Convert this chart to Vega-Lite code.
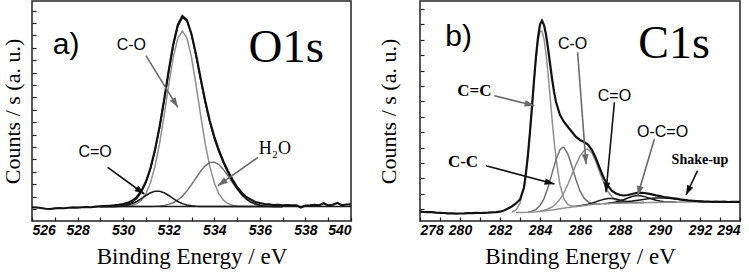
{
  "$schema": "https://vega.github.io/schema/vega-lite/v6.json",
  "padding": {"left": 0, "top": 0, "right": 0, "bottom": 0},
  "background": "white",
  "spacing": 20,
  "config": {
    "view": {"stroke": "#222", "strokeWidth": 1.5},
    "axis": {"grid": false, "domain": false, "tickColor": "#222", "tickSize": -4, "tickWidth": 1.2,
      "labelFont": "Liberation Sans", "labelFontWeight": "bold", "labelFontStyle": "italic", "labelFontSize": 14, "labelColor": "#000",
      "titleFont": "Liberation Serif", "titleFontWeight": "normal", "titleFontSize": 22, "titleColor": "#000", "labelOverlap": false},
    "axisX": {"titleFontSize": 23}
  },
  "datasets": {
    "o1s": [
      {"E":529.0,"CO":14.5,"H2O":14.5,"CdO":14.5,"fit":14.5},
      {"E":529.2,"CO":14.5,"H2O":14.5,"CdO":14.5,"fit":14.5},
      {"E":529.4,"CO":14.5,"H2O":14.5,"CdO":14.5,"fit":14.5},
      {"E":529.6,"CO":14.5,"H2O":14.5,"CdO":14.6,"fit":14.6},
      {"E":529.8,"CO":14.6,"H2O":14.5,"CdO":14.8,"fit":14.8},
      {"E":530.0,"CO":14.7,"H2O":14.5,"CdO":15.2,"fit":15.4},
      {"E":530.2,"CO":15.0,"H2O":14.5,"CdO":16.0,"fit":16.5},
      {"E":530.4,"CO":15.8,"H2O":14.5,"CdO":17.4,"fit":18.6},
      {"E":530.6,"CO":17.5,"H2O":14.5,"CdO":19.5,"fit":22.5},
      {"E":530.8,"CO":20.9,"H2O":14.5,"CdO":22.3,"fit":28.8},
      {"E":531.0,"CO":27.4,"H2O":14.5,"CdO":25.5,"fit":38.4},
      {"E":531.2,"CO":38.2,"H2O":14.6,"CdO":28.2,"fit":52.0},
      {"E":531.4,"CO":54.9,"H2O":14.7,"CdO":29.8,"fit":70.4},
      {"E":531.6,"CO":77.7,"H2O":15.0,"CdO":29.8,"fit":93.5},
      {"E":531.8,"CO":105.8,"H2O":15.6,"CdO":28.2,"fit":120.6},
      {"E":532.0,"CO":136.1,"H2O":16.6,"CdO":25.5,"fit":149.1},
      {"E":532.2,"CO":163.6,"H2O":18.3,"CdO":22.3,"fit":175.2},
      {"E":532.4,"CO":183.0,"H2O":21.0,"CdO":19.5,"fit":194.5},
      {"E":532.6,"CO":190.0,"H2O":24.9,"CdO":17.4,"fit":203.3},
      {"E":532.8,"CO":183.0,"H2O":30.1,"CdO":16.0,"fit":200.1},
      {"E":533.0,"CO":163.6,"H2O":36.4,"CdO":15.2,"fit":186.2},
      {"E":533.2,"CO":136.1,"H2O":43.2,"CdO":14.8,"fit":165.1},
      {"E":533.4,"CO":105.8,"H2O":49.8,"CdO":14.6,"fit":141.2},
      {"E":533.6,"CO":77.7,"H2O":55.2,"CdO":14.5,"fit":118.4},
      {"E":533.8,"CO":54.9,"H2O":58.4,"CdO":14.5,"fit":98.8},
      {"E":534.0,"CO":38.2,"H2O":58.8,"CdO":14.5,"fit":82.5},
      {"E":534.2,"CO":27.4,"H2O":56.4,"CdO":14.5,"fit":69.3},
      {"E":534.4,"CO":20.9,"H2O":51.6,"CdO":14.5,"fit":58.0},
      {"E":534.6,"CO":17.5,"H2O":45.3,"CdO":14.5,"fit":48.3},
      {"E":534.8,"CO":15.8,"H2O":38.4,"CdO":14.5,"fit":39.7},
      {"E":535.0,"CO":15.0,"H2O":31.9,"CdO":14.5,"fit":32.4},
      {"E":535.2,"CO":14.7,"H2O":26.3,"CdO":14.5,"fit":26.5},
      {"E":535.4,"CO":14.6,"H2O":22.0,"CdO":14.5,"fit":22.1},
      {"E":535.6,"CO":14.5,"H2O":19.0,"CdO":14.5,"fit":19.0},
      {"E":535.8,"CO":14.5,"H2O":17.0,"CdO":14.5,"fit":17.0},
      {"E":536.0,"CO":14.5,"H2O":15.8,"CdO":14.5,"fit":15.8},
      {"E":536.2,"CO":14.5,"H2O":15.1,"CdO":14.5,"fit":15.1},
      {"E":536.4,"CO":14.5,"H2O":14.8,"CdO":14.5,"fit":14.8},
      {"E":536.6,"CO":14.5,"H2O":14.6,"CdO":14.5,"fit":14.6},
      {"E":536.8,"CO":14.5,"H2O":14.5,"CdO":14.5,"fit":14.5},
      {"E":537.0,"CO":14.5,"H2O":14.5,"CdO":14.5,"fit":14.5}
    ],
    "o1s_raw": [
      {"E":526.0,"v":13.8},{"E":526.2,"v":13.5},{"E":526.4,"v":13.0},{"E":526.6,"v":12.2},{"E":526.8,"v":12.0},
      {"E":527.0,"v":12.6},{"E":527.2,"v":13.0},{"E":527.4,"v":12.8},{"E":527.6,"v":13.3},{"E":527.8,"v":13.6},
      {"E":528.0,"v":13.4},{"E":528.2,"v":13.8},{"E":528.4,"v":14.0},{"E":528.6,"v":13.8},{"E":528.8,"v":14.4},
      {"E":529.0,"v":14.6},{"E":529.2,"v":14.9},{"E":529.4,"v":15.3},{"E":529.6,"v":15.6},{"E":529.8,"v":16.2},
      {"E":530.0,"v":17.0},{"E":530.2,"v":18.3},{"E":530.4,"v":20.3},{"E":530.6,"v":24.0},{"E":530.8,"v":30.0},
      {"E":531.0,"v":39.5},{"E":531.2,"v":53.0},{"E":531.4,"v":71.5},{"E":531.6,"v":94.5},{"E":531.8,"v":121.5},
      {"E":532.0,"v":150.5},{"E":532.2,"v":177.0},{"E":532.4,"v":196.5},{"E":532.6,"v":205.0},{"E":532.8,"v":201.0},
      {"E":533.0,"v":187.0},{"E":533.2,"v":166.5},{"E":533.4,"v":143.0},{"E":533.6,"v":120.5},{"E":533.8,"v":100.5},
      {"E":534.0,"v":84.5},{"E":534.2,"v":71.0},{"E":534.4,"v":59.5},{"E":534.6,"v":50.0},{"E":534.8,"v":41.5},
      {"E":535.0,"v":34.0},{"E":535.2,"v":28.5},{"E":535.4,"v":24.0},{"E":535.6,"v":21.5},{"E":535.8,"v":19.0},
      {"E":536.0,"v":18.0},{"E":536.2,"v":17.0},{"E":536.4,"v":16.8},{"E":536.6,"v":16.0},{"E":536.8,"v":16.3},
      {"E":537.0,"v":15.8},{"E":537.2,"v":15.9},{"E":537.4,"v":15.7},{"E":537.6,"v":15.6},{"E":537.8,"v":13.5},
      {"E":538.0,"v":15.5},{"E":538.2,"v":15.8},{"E":538.4,"v":16.3},{"E":538.6,"v":15.7},{"E":538.8,"v":17.8},
      {"E":539.0,"v":15.6},{"E":539.2,"v":16.2},{"E":539.4,"v":18.0},{"E":539.6,"v":15.8},{"E":539.8,"v":16.5},
      {"E":540.0,"v":16.6}
    ],
    "c1s": [
      {"k":"CeC","E":282.6,"v":9.0},{"k":"CeC","E":282.8,"v":11.0},{"k":"CeC","E":283.0,"v":17.7},{"k":"CeC","E":283.2,"v":34.2},
      {"k":"CeC","E":283.3,"v":48.2},{"k":"CeC","E":283.4,"v":66.5},{"k":"CeC","E":283.5,"v":88.8},{"k":"CeC","E":283.6,"v":113.7},
      {"k":"CeC","E":283.7,"v":139.2},{"k":"CeC","E":283.8,"v":162.2},{"k":"CeC","E":283.9,"v":179.8},{"k":"CeC","E":284.0,"v":189.5},
      {"k":"CeC","E":284.1,"v":189.9},{"k":"CeC","E":284.2,"v":182.1},{"k":"CeC","E":284.3,"v":167.5},{"k":"CeC","E":284.4,"v":147.8},
      {"k":"CeC","E":284.5,"v":125.3},{"k":"CeC","E":284.6,"v":102.4},{"k":"CeC","E":284.7,"v":81.0},{"k":"CeC","E":284.8,"v":62.4},
      {"k":"CeC","E":285.0,"v":35.8},{"k":"CeC","E":285.2,"v":22.0},{"k":"CeC","E":285.4,"v":16.4},{"k":"CeC","E":285.6,"v":14.9},
      {"k":"CeC","E":285.8,"v":14.8},{"k":"CeC","E":286.0,"v":15.1},
      {"k":"CC","E":283.4,"v":9.0},{"k":"CC","E":283.6,"v":9.8},{"k":"CC","E":283.8,"v":11.6},{"k":"CC","E":284.0,"v":15.5},
      {"k":"CC","E":284.2,"v":22.4},{"k":"CC","E":284.4,"v":33.4},{"k":"CC","E":284.6,"v":47.4},{"k":"CC","E":284.8,"v":61.6},
      {"k":"CC","E":285.0,"v":71.4},{"k":"CC","E":285.13,"v":73.7},{"k":"CC","E":285.2,"v":73.4},{"k":"CC","E":285.4,"v":66.8},
      {"k":"CC","E":285.6,"v":54.6},{"k":"CC","E":285.8,"v":41.2},{"k":"CC","E":286.0,"v":30.1},{"k":"CC","E":286.2,"v":22.9},
      {"k":"CC","E":286.4,"v":19.1},{"k":"CC","E":286.6,"v":17.5},{"k":"CC","E":286.8,"v":17.05},{"k":"CC","E":287.0,"v":17.1},
      {"k":"CO","E":284.0,"v":10.0},{"k":"CO","E":284.2,"v":10.75},{"k":"CO","E":284.4,"v":12.0},{"k":"CO","E":284.6,"v":14.0},
      {"k":"CO","E":284.8,"v":17.2},{"k":"CO","E":285.0,"v":21.9},{"k":"CO","E":285.2,"v":28.5},{"k":"CO","E":285.4,"v":37.0},
      {"k":"CO","E":285.6,"v":46.7},{"k":"CO","E":285.8,"v":56.4},{"k":"CO","E":286.0,"v":64.9},{"k":"CO","E":286.2,"v":70.4},
      {"k":"CO","E":286.35,"v":71.9},{"k":"CO","E":286.4,"v":71.8},{"k":"CO","E":286.6,"v":67.7},{"k":"CO","E":286.8,"v":59.0},
      {"k":"CO","E":287.0,"v":48.1},{"k":"CO","E":287.2,"v":37.7},{"k":"CO","E":287.4,"v":29.5},{"k":"CO","E":287.6,"v":24.0},
      {"k":"CO","E":287.8,"v":20.8},{"k":"CO","E":288.0,"v":19.2},{"k":"CO","E":288.2,"v":18.5},{"k":"CO","E":288.4,"v":18.3},
      {"k":"CdO","E":285.8,"v":14.6},{"k":"CdO","E":286.0,"v":15.2},{"k":"CdO","E":286.2,"v":16.0},{"k":"CdO","E":286.4,"v":16.8},
      {"k":"CdO","E":286.6,"v":17.9},{"k":"CdO","E":286.8,"v":19.2},{"k":"CdO","E":287.0,"v":20.6},{"k":"CdO","E":287.2,"v":21.7},
      {"k":"CdO","E":287.4,"v":22.4},{"k":"CdO","E":287.6,"v":22.4},{"k":"CdO","E":287.8,"v":21.9},{"k":"CdO","E":288.0,"v":20.9},
      {"k":"CdO","E":288.2,"v":20.0},{"k":"CdO","E":288.4,"v":19.2},{"k":"CdO","E":288.6,"v":18.8},{"k":"CdO","E":288.8,"v":18.5},
      {"k":"CdO","E":289.0,"v":18.45},{"k":"CdO","E":289.2,"v":18.4},
      {"k":"OCO","E":287.2,"v":17.3},{"k":"OCO","E":287.4,"v":17.7},{"k":"OCO","E":287.6,"v":18.3},{"k":"OCO","E":287.8,"v":19.1},
      {"k":"OCO","E":288.0,"v":20.2},{"k":"OCO","E":288.2,"v":21.5},{"k":"OCO","E":288.4,"v":23.0},{"k":"OCO","E":288.6,"v":24.4},
      {"k":"OCO","E":288.8,"v":25.2},{"k":"OCO","E":289.0,"v":25.25},{"k":"OCO","E":289.2,"v":24.6},{"k":"OCO","E":289.4,"v":23.35},
      {"k":"OCO","E":289.6,"v":22.0},{"k":"OCO","E":289.8,"v":20.85},{"k":"OCO","E":290.0,"v":19.9},{"k":"OCO","E":290.2,"v":19.3},
      {"k":"OCO","E":290.4,"v":19.0},{"k":"OCO","E":290.6,"v":18.9},{"k":"OCO","E":290.8,"v":18.8},
      {"k":"SU","E":287.4,"v":17.55},{"k":"SU","E":287.8,"v":18.2},{"k":"SU","E":288.2,"v":18.9},{"k":"SU","E":288.6,"v":19.9},
      {"k":"SU","E":289.0,"v":21.1},{"k":"SU","E":289.4,"v":22.2},{"k":"SU","E":289.8,"v":23.0},{"k":"SU","E":290.0,"v":23.1},
      {"k":"SU","E":290.2,"v":23.1},{"k":"SU","E":290.6,"v":22.5},{"k":"SU","E":291.0,"v":21.6},{"k":"SU","E":291.4,"v":20.6},
      {"k":"SU","E":291.8,"v":19.9},{"k":"SU","E":292.2,"v":19.45},{"k":"SU","E":292.6,"v":19.25},{"k":"SU","E":293.2,"v":19.2},
      {"k":"bg","E":282.8,"v":8.45},{"k":"bg","E":283.0,"v":8.5},{"k":"bg","E":283.4,"v":8.8},{"k":"bg","E":283.8,"v":9.3},
      {"k":"bg","E":284.2,"v":10.1},{"k":"bg","E":284.6,"v":11.1},{"k":"bg","E":285.0,"v":12.3},{"k":"bg","E":285.4,"v":13.5},
      {"k":"bg","E":285.8,"v":14.6},{"k":"bg","E":286.2,"v":15.6},{"k":"bg","E":286.6,"v":16.4},{"k":"bg","E":287.0,"v":17.0},
      {"k":"bg","E":287.4,"v":17.4},{"k":"bg","E":287.8,"v":17.8},{"k":"bg","E":288.4,"v":18.1},{"k":"bg","E":289.0,"v":18.35},
      {"k":"bg","E":289.6,"v":18.5},{"k":"bg","E":290.4,"v":18.7},{"k":"bg","E":291.2,"v":18.9},{"k":"bg","E":292.0,"v":19.0},
      {"k":"bg","E":293.0,"v":19.2},{"k":"bg","E":294.0,"v":19.3}
    ],
    "c1s_raw": [
      {"E":278.0,"v":9.3},{"E":278.2,"v":9.0},{"E":278.4,"v":8.8},{"E":278.6,"v":8.9},{"E":278.8,"v":8.4},
      {"E":279.0,"v":8.2},{"E":279.2,"v":8.0},{"E":279.4,"v":7.7},{"E":279.6,"v":7.6},{"E":279.8,"v":7.3},
      {"E":280.0,"v":7.5},{"E":280.2,"v":7.6},{"E":280.4,"v":7.8},{"E":280.6,"v":7.9},{"E":280.8,"v":8.1},
      {"E":281.0,"v":8.0},{"E":281.2,"v":8.2},{"E":281.4,"v":8.3},{"E":281.6,"v":8.6},{"E":281.8,"v":8.8},
      {"E":282.0,"v":9.3},{"E":282.2,"v":10.5},{"E":282.4,"v":12.5},{"E":282.6,"v":14.8},{"E":282.8,"v":17.5},
      {"E":283.0,"v":21.5},{"E":283.2,"v":33.5},{"E":283.3,"v":48.3},{"E":283.4,"v":66.7},{"E":283.5,"v":89.3},
      {"E":283.6,"v":114.5},{"E":283.7,"v":140.5},{"E":283.8,"v":164.5},{"E":283.9,"v":183.7},{"E":284.0,"v":196.5},
      {"E":284.1,"v":200.5},{"E":284.2,"v":196.0},{"E":284.3,"v":186.5},{"E":284.4,"v":173.0},{"E":284.5,"v":157.5},
      {"E":284.6,"v":142.5},{"E":284.7,"v":129.5},{"E":284.8,"v":119.0},{"E":285.0,"v":106.0},{"E":285.2,"v":99.0},
      {"E":285.4,"v":94.0},{"E":285.6,"v":89.0},{"E":285.8,"v":84.0},{"E":286.0,"v":81.0},{"E":286.2,"v":79.0},
      {"E":286.4,"v":76.5},{"E":286.6,"v":71.0},{"E":286.8,"v":62.5},{"E":287.0,"v":52.0},{"E":287.2,"v":42.5},
      {"E":287.4,"v":35.0},{"E":287.6,"v":30.0},{"E":287.8,"v":27.5},{"E":288.0,"v":26.0},{"E":288.2,"v":25.5},
      {"E":288.4,"v":26.0},{"E":288.6,"v":27.0},{"E":288.8,"v":27.8},{"E":289.0,"v":28.3},{"E":289.2,"v":28.0},
      {"E":289.4,"v":27.4},{"E":289.6,"v":26.6},{"E":289.8,"v":25.6},{"E":290.0,"v":24.8},{"E":290.2,"v":24.0},
      {"E":290.4,"v":23.4},{"E":290.6,"v":22.8},{"E":290.8,"v":22.3},{"E":291.0,"v":21.7},{"E":291.2,"v":21.2},
      {"E":291.4,"v":20.7},{"E":291.6,"v":20.3},{"E":291.8,"v":20.0},{"E":292.0,"v":19.7},{"E":292.2,"v":19.4},
      {"E":292.4,"v":19.5},{"E":292.6,"v":19.2},{"E":292.8,"v":19.4},{"E":293.0,"v":19.1},{"E":293.2,"v":19.3},
      {"E":293.4,"v":19.0},{"E":293.6,"v":19.2},{"E":293.8,"v":19.1},{"E":294.0,"v":19.2}
    ]
  },
  "hconcat": [
    {
      "width": 319, "height": 220,
      "encoding": {
        "x": {"field": "E", "type": "quantitative",
          "scale": {"domain": [526, 540], "nice": false, "zero": false},
          "axis": {"values": [526,527,528,529,530,531,532,533,534,535,536,537,538,539,540],
            "labelExpr": "datum.value % 2 == 0 ? datum.label : ''", "title": "Binding Energy / eV",
            "labelPadding": 6, "titlePadding": 8}},
        "y": {"field": "v", "type": "quantitative",
          "scale": {"domain": [0, 220], "nice": false, "zero": false},
          "axis": {"values": [12,24.4,36.8,49.2,61.6,74,86.4,98.8,111.2,123.6,136,148.4,160.8,173.2,185.6,198,210.4],
            "labels": false, "title": "Counts / s (a. u.)", "titlePadding": 7}}
      },
      "layer": [
        {"data": {"name": "o1s"},
         "transform": [{"fold": ["CO", "H2O", "CdO", "fit"], "as": ["k", "v"]}],
         "mark": {"type": "line", "strokeWidth": 1.5},
         "encoding": {"color": {"field": "k", "type": "nominal", "legend": null,
           "scale": {"domain": ["CO", "H2O", "CdO", "fit"], "range": ["#8f8f8f", "#707070", "#1a1a1a", "#1a1a1a"]}}}},
        {"data": {"values": [{"E": 529.2, "v": 14.5}, {"E": 540, "v": 14.5}]},
         "mark": {"type": "line", "color": "#1a1a1a", "strokeWidth": 1.6}, "encoding": {}},
        {"data": {"name": "o1s_raw"},
         "mark": {"type": "line", "color": "#111", "strokeWidth": 2.1}, "encoding": {}},
        {"data": {"values": [
            {"E": 531.0, "v": 165.3, "E2": 532.4, "v2": 113.7, "ang": 148.5},
            {"E": 535.92, "v": 63.7, "E2": 534.16, "v2": 35.3, "ang": 234.6}]},
         "layer": [
           {"mark": {"type": "rule", "color": "#6a6a6a", "strokeWidth": 1.6},
            "encoding": {"x2": {"field": "E2"}, "y2": {"field": "v2"}}},
           {"mark": {"type": "point", "shape": "M0,0L-0.55,1.6L0.55,1.6Z", "filled": true, "color": "#6a6a6a", "size": 150, "opacity": 1},
            "encoding": {"x": {"field": "E2", "type": "quantitative"}, "y": {"field": "v2", "type": "quantitative"},
              "angle": {"field": "ang", "type": "quantitative", "scale": null}}}
         ]},
        {"data": {"values": [
            {"E": 529.32, "v": 53.7, "E2": 530.93, "v2": 27, "ang": 126}]},
         "layer": [
           {"mark": {"type": "rule", "color": "#111", "strokeWidth": 1.6},
            "encoding": {"x2": {"field": "E2"}, "y2": {"field": "v2"}}},
           {"mark": {"type": "point", "shape": "M0,0L-0.55,1.6L0.55,1.6Z", "filled": true, "color": "#111", "size": 150, "opacity": 1},
            "encoding": {"x": {"field": "E2", "type": "quantitative"}, "y": {"field": "v2", "type": "quantitative"},
              "angle": {"field": "ang", "type": "quantitative", "scale": null}}}
         ]},
        {"data": {"values": [{"t": "C-O", "E": 530.36, "v": 171}, {"t": "C=O", "E": 528.77, "v": 63.7}]},
         "mark": {"type": "text", "font": "Liberation Sans", "fontSize": 16, "align": "center", "baseline": "alphabetic", "color": "#000"},
         "encoding": {"text": {"field": "t"}}},
        {"data": {"values": [{"t": "H₂O", "E": 536.66, "v": 67}]},
         "mark": {"type": "text", "font": "Liberation Serif, DejaVu Serif", "fontSize": 18, "align": "center", "baseline": "alphabetic", "color": "#000"},
         "encoding": {"text": {"field": "t"}}},
        {"data": {"values": [{"t": "a)", "E": 527.5, "v": 167}]},
         "mark": {"type": "text", "font": "Liberation Sans", "fontSize": 30, "align": "center", "baseline": "alphabetic", "color": "#000"},
         "encoding": {"text": {"field": "t"}}},
        {"data": {"values": [{"t": "O1s", "E": 537.16, "v": 159.5}]},
         "mark": {"type": "text", "font": "Liberation Serif", "fontSize": 47, "align": "center", "baseline": "alphabetic", "color": "#000"},
         "encoding": {"text": {"field": "t"}}}
      ]
    },
    {
      "width": 320, "height": 220,
      "encoding": {
        "x": {"field": "E", "type": "quantitative",
          "scale": {"domain": [278, 294], "nice": false, "zero": false},
          "axis": {"values": [278,279,280,281,282,283,284,285,286,287,288,289,290,291,292,293,294],
            "labelExpr": "datum.value % 2 == 0 ? datum.label : ''", "title": "Binding Energy / eV",
            "labelPadding": 6, "titlePadding": 8}},
        "y": {"field": "v", "type": "quantitative",
          "scale": {"domain": [0, 220], "nice": false, "zero": false},
          "axis": {"values": [11.8,27.2,42.6,58,73.4,88.8,104.2,119.6,135,150.4,165.8,181.2,196.6,212],
            "labels": false, "title": "Counts / s (a. u.)", "titlePadding": 19}}
      },
      "layer": [
        {"data": {"name": "c1s"},
         "mark": {"type": "line", "strokeWidth": 1.5},
         "encoding": {"color": {"field": "k", "type": "nominal", "legend": null,
           "scale": {"domain": ["CeC", "CC", "CO", "CdO", "OCO", "SU", "bg"],
                     "range": ["#8c8c8c", "#1e1e1e", "#8c8c8c", "#3a3a3a", "#8c8c8c", "#8c8c8c", "#111111"]}}}},
        {"data": {"name": "c1s_raw"},
         "mark": {"type": "line", "color": "#111", "strokeWidth": 2.2}, "encoding": {}},
        {"data": {"values": [
            {"E": 281.72, "v": 125.3, "E2": 283.72, "v2": 115.3, "ang": 104},
            {"E": 285.88, "v": 168.7, "E2": 286.3, "v2": 57, "ang": 175.7},
            {"E": 289.72, "v": 82, "E2": 288.88, "v2": 25.3, "ang": 196.3}]},
         "layer": [
           {"mark": {"type": "rule", "color": "#6a6a6a", "strokeWidth": 1.6},
            "encoding": {"x2": {"field": "E2"}, "y2": {"field": "v2"}}},
           {"mark": {"type": "point", "shape": "M0,0L-0.55,1.6L0.55,1.6Z", "filled": true, "color": "#6a6a6a", "size": 150, "opacity": 1},
            "encoding": {"x": {"field": "E2", "type": "quantitative"}, "y": {"field": "v2", "type": "quantitative"},
              "angle": {"field": "ang", "type": "quantitative", "scale": null}}}
         ]},
        {"data": {"values": [
            {"E": 287.72, "v": 118.7, "E2": 287.3, "v2": 28.7, "ang": 185.3},
            {"E": 291.88, "v": 50.3, "E2": 291.3, "v2": 26, "ang": 205.7},
            {"E": 281.3, "v": 55.3, "E2": 284.72, "v2": 37, "ang": 105}]},
         "layer": [
           {"mark": {"type": "rule", "color": "#111", "strokeWidth": 1.6},
            "encoding": {"x2": {"field": "E2"}, "y2": {"field": "v2"}}},
           {"mark": {"type": "point", "shape": "M0,0L-0.55,1.6L0.55,1.6Z", "filled": true, "color": "#111", "size": 150, "opacity": 1},
            "encoding": {"x": {"field": "E2", "type": "quantitative"}, "y": {"field": "v2", "type": "quantitative"},
              "angle": {"field": "ang", "type": "quantitative", "scale": null}}}
         ]},
        {"data": {"values": [{"t": "C-O", "E": 285.63, "v": 172}, {"t": "C=O", "E": 287.72, "v": 120.3}, {"t": "O-C=O", "E": 290.13, "v": 83.7}]},
         "mark": {"type": "text", "font": "Liberation Sans", "fontSize": 16, "align": "center", "baseline": "alphabetic", "color": "#000"},
         "encoding": {"text": {"field": "t"}}},
        {"data": {"values": [{"t": "C=C", "E": 280.72, "v": 125.3}, {"t": "C-C", "E": 280.15, "v": 53.7}]},
         "mark": {"type": "text", "font": "Liberation Serif", "fontSize": 17, "fontWeight": "bold", "align": "center", "baseline": "alphabetic", "color": "#000"},
         "encoding": {"text": {"field": "t"}}},
        {"data": {"values": [{"t": "Shake-up", "E": 292.0, "v": 57}]},
         "mark": {"type": "text", "font": "Liberation Serif", "fontSize": 14, "fontWeight": "bold", "align": "center", "baseline": "alphabetic", "color": "#000"},
         "encoding": {"text": {"field": "t"}}},
        {"data": {"values": [{"t": "b)", "E": 279.93, "v": 175.3}]},
         "mark": {"type": "text", "font": "Liberation Sans", "fontSize": 30, "align": "center", "baseline": "alphabetic", "color": "#000"},
         "encoding": {"text": {"field": "t"}}},
        {"data": {"values": [{"t": "C1s", "E": 290.7, "v": 163}]},
         "mark": {"type": "text", "font": "Liberation Serif", "fontSize": 46, "align": "center", "baseline": "alphabetic", "color": "#000"},
         "encoding": {"text": {"field": "t"}}}
      ]
    }
  ]
}
